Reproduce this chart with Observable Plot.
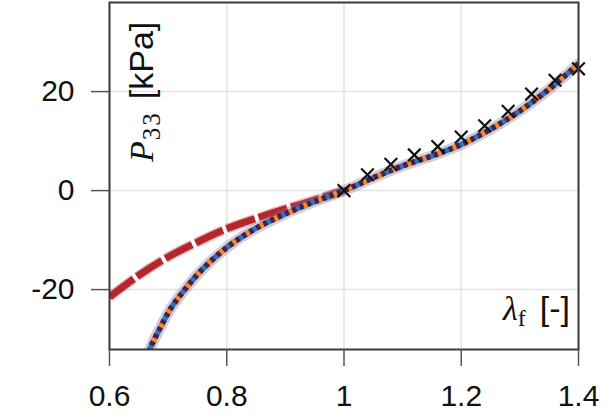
<!DOCTYPE html>
<html>
<head>
<meta charset="utf-8">
<script src="https://cdn.jsdelivr.net/npm/d3@7"></script>
<script src="https://cdn.jsdelivr.net/npm/@observablehq/plot@0.6"></script>
<style>
  html, body { margin: 0; padding: 0; background: white; }
</style>
</head>
<body>
<div id="chart"></div>
<script>
// Tick labels
const xTicks = [0.6, 0.8, 1, 1.2, 1.4];
const yTicks = [-20, 0, 20];

// Red dashed curve (compression branch)
const redLambda = [0.60, 0.65, 0.70, 0.75, 0.80, 0.85, 0.90, 0.95, 1.00];
const redP33    = [-21.5, -17.1, -13.4, -10.4, -7.7, -5.6, -3.7, -1.9, 0];

// Combined blue / orange / purple curve
const fitLambda = [0.665, 0.67, 0.687, 0.704, 0.727, 0.756, 0.80, 0.85, 0.90, 0.95, 1.00, 1.05, 1.10, 1.15, 1.20, 1.25, 1.30, 1.35, 1.40];
const fitP33    = [-33.5, -31.7, -27.6, -23.9, -20.2, -16.2, -11.5, -7.6, -4.7, -2.2, 0, 2.6, 5.0, 7.0, 9.3, 12.4, 16.1, 20.5, 25.6];

// Experimental markers
const expLambda = [1.00, 1.04, 1.08, 1.12, 1.16, 1.20, 1.24, 1.28, 1.32, 1.36, 1.40];
const expP33    = [0, 3.2, 5.3, 7.2, 8.9, 10.8, 13.1, 16.0, 19.5, 22.3, 24.6];

const red = redLambda.map((x, i) => ({x, y: redP33[i]}));
const fit = fitLambda.map((x, i) => ({x, y: fitP33[i]}));
const exp = expLambda.map((x, i) => ({x, y: expP33[i]}));

const curve = "catmull-rom";

const svg = Plot.plot({
  width: 616,
  height: 419,
  marginLeft: 109,
  marginRight: 38,
  marginTop: 2,
  marginBottom: 70,
  style: {fontFamily: "Liberation Sans", fontSize: "30px", color: "#111", background: "white", overflow: "visible"},
  x: {domain: [0.6, 1.4]},
  y: {domain: [-32.1, 38]},
  marks: [
    Plot.gridX(xTicks, {stroke: "#e3e3e3", strokeOpacity: 1, strokeWidth: 1.5}),
    Plot.gridY(yTicks, {stroke: "#e3e3e3", strokeOpacity: 1, strokeWidth: 1.5}),
    // red dashed
    Plot.line(red, {x: "x", y: "y", curve, clip: true, stroke: "#c0393c", strokeOpacity: 0.35, strokeWidth: 10, strokeDasharray: "30,4", strokeLinecap: "butt"}),
    Plot.line(red, {x: "x", y: "y", curve, clip: true, stroke: "#b3262b", strokeWidth: 7, strokeDasharray: "30,4", strokeLinecap: "butt"}),
    // wide pale band
    Plot.line(fit, {x: "x", y: "y", curve, clip: true, stroke: "#8a6e8c", strokeOpacity: 0.35, strokeWidth: 11}),
    Plot.line(fit, {x: "x", y: "y", curve, clip: true, stroke: "#2b78b3", strokeWidth: 5.5}),
    Plot.line(fit, {x: "x", y: "y", curve, clip: true, stroke: "#f08d1e", strokeWidth: 5.5, strokeDasharray: "4,12", strokeLinecap: "butt"}),
    Plot.line(fit, {x: "x", y: "y", curve, clip: true, stroke: "#4e1b4c", strokeWidth: 5.5, strokeDasharray: "4,4", strokeDashoffset: 4, strokeLinecap: "butt"}),
    // markers
    Plot.dot(exp, {x: "x", y: "y", symbol: "times", r: 5.8, stroke: "#111", strokeWidth: 2.2}),
    Plot.frame({stroke: "#3a3a3a", strokeWidth: 2}),
    Plot.axisX(xTicks, {tickSize: 17, tickPadding: 18, tickFormat: d => String(d), label: null, stroke: "#555", strokeWidth: 1.5, fill: "#111", fontSize: 30}),
    Plot.axisY(yTicks, {tickSize: 18, tickPadding: 17, tickFormat: d => String(d), label: null, stroke: "#555", strokeWidth: 1.5, fill: "#111", fontSize: 30})
  ]
});

// Axis titles drawn inside the frame
const s = d3.select(svg);
const yl = s.append("text")
  .attr("transform", "translate(153,162) rotate(-90)")
  .attr("text-anchor", "start")
  .attr("fill", "#111")
  .attr("font-size", 34);
yl.append("tspan").attr("font-family", "Liberation Serif").attr("font-style", "italic").text("P");
yl.append("tspan").attr("font-family", "Liberation Serif").attr("font-size", 25).attr("dy", 7).attr("dx", 1).attr("letter-spacing", 2).text("33");
yl.append("tspan").attr("font-family", "Liberation Sans").attr("dy", -7).attr("dx", 12).text("[kPa]");

const xl = s.append("text")
  .attr("x", 570).attr("y", 320)
  .attr("text-anchor", "end")
  .attr("fill", "#111")
  .attr("font-size", 34);
xl.append("tspan").attr("font-family", "Liberation Serif").attr("font-style", "italic").text("λ");
xl.append("tspan").attr("font-family", "Liberation Serif").attr("font-size", 24).attr("dy", 6).text("f");
xl.append("tspan").attr("font-family", "Liberation Sans").attr("dy", -6).attr("dx", 14).text("[-]");

document.getElementById("chart").appendChild(svg);
</script>
</body>
</html>
